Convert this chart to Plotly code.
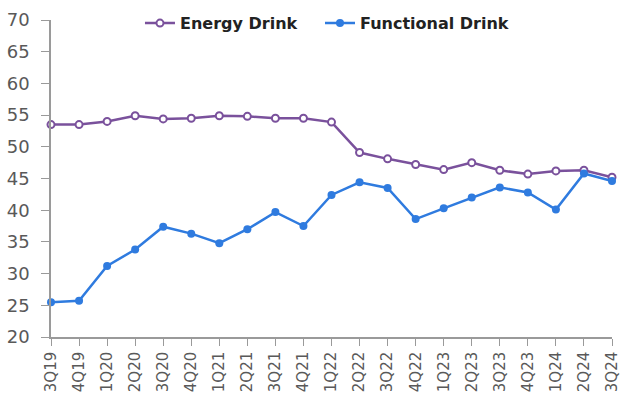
import plotly.graph_objects as go

quarters = ["3Q19", "4Q19", "1Q20", "2Q20", "3Q20", "4Q20", "1Q21", "2Q21", "3Q21", "4Q21",
            "1Q22", "2Q22", "3Q22", "4Q22", "1Q23", "2Q23", "3Q23", "4Q23", "1Q24", "2Q24", "3Q24"]
energy_drink = [53.5, 53.5, 54.0, 54.9, 54.4, 54.5, 54.9, 54.8, 54.5, 54.5,
                53.9, 49.1, 48.1, 47.2, 46.4, 47.5, 46.3, 45.7, 46.2, 46.3, 45.2]
functional_drink = [25.5, 25.7, 31.2, 33.8, 37.4, 36.3, 34.8, 37.0, 39.7, 37.5,
                    42.4, 44.4, 43.5, 38.6, 40.3, 42.0, 43.6, 42.8, 40.1, 45.8, 44.6]

PURPLE = "#7A519C"
BLUE = "#2F7BDF"
FONT = "DejaVu Sans"

fig = go.Figure()
fig.add_trace(go.Scatter(
    x=quarters, y=energy_drink, name="Energy Drink", mode="lines+markers",
    line=dict(color=PURPLE, width=2.5),
    marker=dict(symbol="circle", size=7, color="white", line=dict(color=PURPLE, width=2)),
    cliponaxis=False, legend="legend",
))
fig.add_trace(go.Scatter(
    x=quarters, y=functional_drink, name="Functional Drink", mode="lines+markers",
    line=dict(color=BLUE, width=2.5),
    marker=dict(symbol="circle", size=8, color=BLUE),
    cliponaxis=False, legend="legend2",
))

legend_font = dict(family=FONT, size=16, color="#222222", weight="bold")
fig.update_layout(
    width=622, height=397,
    margin=dict(l=51, r=10, t=20, b=60, autoexpand=False),
    paper_bgcolor="white", plot_bgcolor="white",
    font=dict(family=FONT, color="#595959", size=16),
    legend=dict(orientation="h", x=0.1586, xanchor="left", y=0.99, yanchor="middle",
                font=legend_font, bgcolor="rgba(0,0,0,0)", itemwidth=30),
    legend2=dict(orientation="h", x=0.4795, xanchor="left", y=0.99, yanchor="middle",
                 font=legend_font, bgcolor="rgba(0,0,0,0)", itemwidth=30),
    showlegend=True,
)
fig.update_xaxes(
    type="category", range=[0, 20], showgrid=False, zeroline=False,
    showline=True, linecolor="#9A9A9A", linewidth=1.5,
    ticks="outside", ticklen=7, tickcolor="#9A9A9A",
    tickangle=-90, tickfont=dict(size=15, color="#595959"),
)
fig.update_yaxes(
    range=[20, 70], dtick=5, showgrid=False, zeroline=False,
    showline=True, linecolor="#9A9A9A", linewidth=1.5,
    ticks="outside", ticklen=8, tickcolor="#9A9A9A", ticklabelstandoff=8,
    tickfont=dict(size=18, color="#595959"),
)

fig.write_html("out.html")
